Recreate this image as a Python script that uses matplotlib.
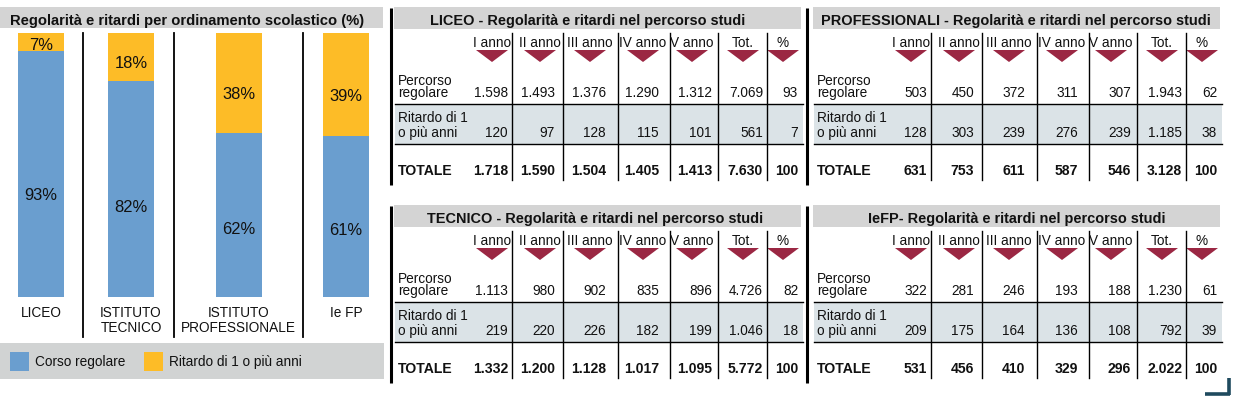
import matplotlib
matplotlib.use("Agg")
import matplotlib.pyplot as plt
from matplotlib import font_manager as fm
from matplotlib.patches import Rectangle, Polygon

# ---------------- data ----------------
categories = ["LICEO", "ISTITUTO\nTECNICO", "ISTITUTO\nPROFESSIONALE", "Ie FP"]
pct_regolare = [93, 82, 62, 61]
pct_ritardo = [7, 18, 38, 39]

col_headers = ["I anno", "II anno", "III anno", "IV anno", "V anno", "Tot.", "%"]
row_labels = ["Percorso\nregolare", "Ritardo di 1\no più anni", "TOTALE"]

liceo_reg = [1598, 1493, 1376, 1290, 1312, 7069, 93]
liceo_rit = [120, 97, 128, 115, 101, 561, 7]
liceo_tot = [1718, 1590, 1504, 1405, 1413, 7630, 100]

prof_reg = [503, 450, 372, 311, 307, 1943, 62]
prof_rit = [128, 303, 239, 276, 239, 1185, 38]
prof_tot = [631, 753, 611, 587, 546, 3128, 100]

tecn_reg = [1113, 980, 902, 835, 896, 4726, 82]
tecn_rit = [219, 220, 226, 182, 199, 1046, 18]
tecn_tot = [1332, 1200, 1128, 1017, 1095, 5772, 100]

iefp_reg = [322, 281, 246, 193, 188, 1230, 61]
iefp_rit = [209, 175, 164, 136, 108, 792, 39]
iefp_tot = [531, 456, 410, 329, 296, 2022, 100]

left_title = "Regolarità e ritardi per ordinamento scolastico (%)"
legend_labels = ["Corso regolare", "Ritardo di 1 o più anni"]
table_titles = ["LICEO - Regolarità e ritardi nel percorso studi",
                "PROFESSIONALI - Regolarità e ritardi nel percorso studi",
                "TECNICO - Regolarità e ritardi nel percorso studi",
                "IeFP- Regolarità e ritardi nel percorso studi"]

# ---------------- style ----------------
names = {f.name for f in fm.fontManager.ttflist}
if "Liberation Sans Narrow" in names:
    FONT, SC = "Liberation Sans Narrow", 1.0
else:
    FONT, SC = "Liberation Sans", 0.85
plt.rcParams["font.family"] = [FONT, "DejaVu Sans"]

BLUE = "#6a9ecf"
ORANGE = "#fdbc27"
GRAY = "#d4d4d4"
LEG_GRAY = "#d1d3d3"
SHADE = "#dbe3e7"
TRI = "#9b2743"
CORNER = "#1f4a5e"
TXT = "#111111"

W, H = 1235, 399
fig = plt.figure(figsize=(W / 100, H / 100), dpi=100)
fig.patch.set_facecolor("white")

def px(v):
    return v / 1.389 * SC

# ---------------- left bar chart ----------------
bar_top, bar_bot = 33, 297
bar_x = [41, 131, 238.5, 346]
axb = fig.add_axes([0, (H - bar_bot) / H, 390 / W, (bar_bot - bar_top) / H])
axb.set_xlim(0, 390)
axb.set_ylim(0, 100)
axb.axis("off")
axb.bar(bar_x, pct_regolare, width=46, color=BLUE)
axb.bar(bar_x, pct_ritardo, width=46, bottom=pct_regolare, color=ORANGE)
for x, r, d in zip(bar_x, pct_regolare, pct_ritardo):
    axb.text(x, r * 0.42, f"{r}%", ha="center", va="center_baseline",
             fontsize=px(19.5), color=TXT)
    axb.text(x, r + d * 0.4, f"{d}%", ha="center", va="center_baseline",
             fontsize=px(19.5), color=TXT)

# ---------------- overlay ----------------
ax = fig.add_axes([0, 0, 1, 1])
ax.set_xlim(0, W)
ax.set_ylim(H, 0)
ax.axis("off")
ax.patch.set_alpha(0)

# left title
ax.add_patch(Rectangle((0, 7), 383, 21, color=GRAY, lw=0))
ax.text(10, 25, left_title, ha="left", va="baseline", fontsize=px(17.4),
        fontweight="bold", color=TXT)
# separators
for sx in [83, 174, 303]:
    ax.plot([sx, sx], [33, 337], color="black", lw=1.3)
# category labels
for x, c in zip(bar_x, categories):
    lines = c.split("\n")
    for i, l in enumerate(lines):
        ax.text(x, 317 + 15 * i, l, ha="center", va="baseline",
                fontsize=px(16), color=TXT)
# legend
ax.add_patch(Rectangle((0, 343), 384, 36, color=LEG_GRAY, lw=0))
for sx, col, lab in zip([10, 144], [BLUE, ORANGE], legend_labels):
    ax.add_patch(Rectangle((sx, 352), 19, 19, color=col, lw=0))
    ax.text(sx + 25, 366, lab, ha="left", va="baseline", fontsize=px(16),
            color=TXT)

# ---------------- tables ----------------
val_right = [113, 160, 211, 264, 317, 368, 403]
head_cx = [97, 145, 195, 248, 297, 348, 388]
sep_x = [117, 168, 223, 275, 323, 372]

def fmt(v):
    return f"{v:,}".replace(",", ".")

def draw_table(ox, oy, bx, tcx, title, reg, rit, tot):
    # border
    ax.plot([bx, bx], [oy + 8, oy + 185], color="black", lw=2.2,
            solid_capstyle="butt")
    # title
    ax.add_patch(Rectangle((ox - 1, oy + 7), 407, 22, color=GRAY, lw=0))
    ax.text(tcx, oy + 25, title, ha="center", va="baseline",
            fontsize=px(17.1), fontweight="bold", color=TXT)
    # shade row
    ax.add_patch(Rectangle((ox, oy + 104), 408, 40, color=SHADE, lw=0))
    ax.plot([ox, ox + 408], [oy + 104, oy + 104], color="black", lw=1.0)
    ax.plot([ox, ox + 408], [oy + 144, oy + 144], color="black", lw=1.0)
    # separators
    for s in sep_x:
        ax.plot([ox + s, ox + s], [oy + 33, oy + 180], color="black", lw=1.0)
    # headers + triangles
    for cx, h in zip(head_cx, col_headers):
        ax.text(ox + cx, oy + 47, h, ha="center", va="baseline",
                fontsize=px(16), color=TXT)
        ax.add_patch(Polygon([(ox + cx - 16, oy + 50), (ox + cx + 16, oy + 50),
                              (ox + cx, oy + 62)], closed=True, color=TRI, lw=0))
    # row labels
    l1 = row_labels[0].split("\n")
    ax.text(ox + 3, oy + 85, l1[0], ha="left", va="baseline", fontsize=px(16), color=TXT)
    ax.text(ox + 3, oy + 97, l1[1], ha="left", va="baseline", fontsize=px(16), color=TXT)
    l2 = row_labels[1].split("\n")
    ax.text(ox + 3, oy + 122, l2[0], ha="left", va="baseline", fontsize=px(16), color=TXT)
    ax.text(ox + 3, oy + 137, l2[1], ha="left", va="baseline", fontsize=px(16), color=TXT)
    ax.text(ox + 3, oy + 175, row_labels[2], ha="left", va="baseline",
            fontsize=px(16.5), fontweight="bold", color=TXT)
    # values
    for xr, a, b, c in zip(val_right, reg, rit, tot):
        ax.text(ox + xr, oy + 97, fmt(a), ha="right", va="baseline",
                fontsize=px(16), color=TXT)
        ax.text(ox + xr, oy + 137, fmt(b), ha="right", va="baseline",
                fontsize=px(16), color=TXT)
        ax.text(ox + xr, oy + 175, fmt(c), ha="right", va="baseline",
                fontsize=px(16.5), fontweight="bold", color=TXT)

draw_table(395, 0, 391, 588, table_titles[0], liceo_reg, liceo_rit, liceo_tot)
draw_table(814, 0, 807, 1016, table_titles[1], prof_reg, prof_rit, prof_tot)
draw_table(395, 198, 391, 595, table_titles[2], tecn_reg, tecn_rit, tecn_tot)
draw_table(814, 198, 807, 1017, table_titles[3], iefp_reg, iefp_rit, iefp_tot)

# corner mark
ax.plot([1228.5, 1228.5], [378, 395], color=CORNER, lw=2.6, solid_capstyle="butt")
ax.plot([1205, 1230], [393.5, 393.5], color=CORNER, lw=2.6, solid_capstyle="butt")

fig.savefig("out.png", dpi=100, facecolor="white")
